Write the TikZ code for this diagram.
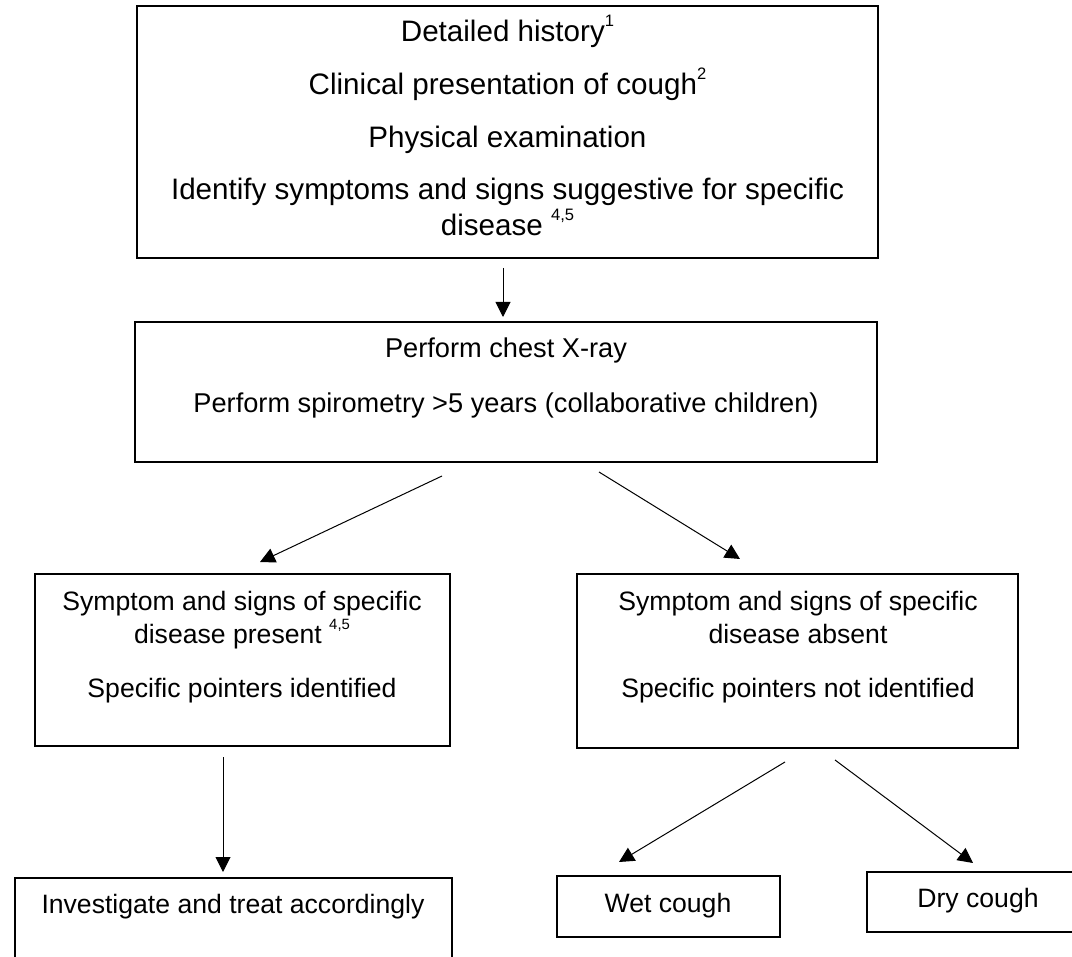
\documentclass[tikz,border=0pt]{standalone}
\usepackage{fontspec}
\setmainfont{Liberation Sans}
\usetikzlibrary{arrows.meta,fit}
\newcommand\supr[1]{\raisebox{0.52em}{\fontsize{0.56em}{0.56em}\selectfont #1}}
\begin{document}
\begin{tikzpicture}[x=0.5pt,y=-0.5pt,
  box/.style={draw, line width=1pt, rectangle, inner sep=0pt},
  txt/.style={anchor=base, inner sep=0pt, font=\fontsize{13.3pt}{16pt}\selectfont},
  txtbig/.style={txt, font=\fontsize{14.8pt}{17pt}\selectfont},
  txtmid/.style={txt, font=\fontsize{13.6pt}{16pt}\selectfont},
  arr/.style={line width=0.5pt, -{Triangle[length=7.5pt,width=7.5pt]}}]
\useasboundingbox (0,0) rectangle (1072,957);
\fill[white] (0,0) rectangle (1072,957);

% boxes
\node[box, fit={(137,6) (878,258)}] (top) {};
\node[box, fit={(135,322) (877,462)}] (test) {};
\node[box, fit={(35,574) (450,746)}] (present) {};
\node[box, fit={(577,574) (1018,748)}] (absent) {};
\node[box, fit={(15,878) (452,1000)}] (treat) {};
\node[box, fit={(557,876) (780,937)}] (wet) {};
\node[box, fit={(867,872) (1090,932)}] (dry) {};

% texts
\node[txtbig] (t1) at (507.5,42) {Detailed history\supr{1}};
\node[txtbig] (t2) at (507.5,95) {Clinical presentation of cough\supr{2}};
\node[txtbig] (t3) at (507.5,148) {Physical examination};
\node[txtbig] (t4) at (507.5,200) {Identify symptoms and signs suggestive for specific};
\node[txtbig] (t5) at (507.5,236) {disease \supr{4,5}};

\node[txtmid] (u1) at (506,358) {Perform chest X-ray};
\node[txtmid] (u2) at (506,413) {Perform spirometry >5 years (collaborative children)};

\node[txt] (p1) at (242,610) {Symptom and signs of specific};
\node[txt] (p2) at (242,643) {disease present \supr{4,5}};
\node[txt] (p3) at (242,697) {Specific pointers identified};

\node[txt] (a1) at (798,610) {Symptom and signs of specific};
\node[txt] (a2) at (798,643) {disease absent};
\node[txt] (a3) at (798,697) {Specific pointers not identified};

\node[txt] (i1) at (233,913) {Investigate and treat accordingly};
\node[txt] (w1) at (668,912) {Wet cough};
\node[txt] (d1) at (978,907) {Dry cough};

% connector ends
\coordinate (c1s) at (503,268);  \coordinate (c1e) at (503,317);
\coordinate (c2s) at (442,476);  \coordinate (c2e) at (260,562);
\coordinate (c3s) at (599,472);  \coordinate (c3e) at (740,559);
\coordinate (c4s) at (223,757);  \coordinate (c4e) at (223,872);
\coordinate (c5s) at (785,762);  \coordinate (c5e) at (619,862);
\coordinate (c6s) at (835,760);  \coordinate (c6e) at (973,863);

\draw[arr] (c1s) -- (c1e);
\draw[arr] (c2s) -- (c2e);
\draw[arr] (c3s) -- (c3e);
\draw[arr] (c4s) -- (c4e);
\draw[arr] (c5s) -- (c5e);
\draw[arr] (c6s) -- (c6e);
\end{tikzpicture}
\end{document}
